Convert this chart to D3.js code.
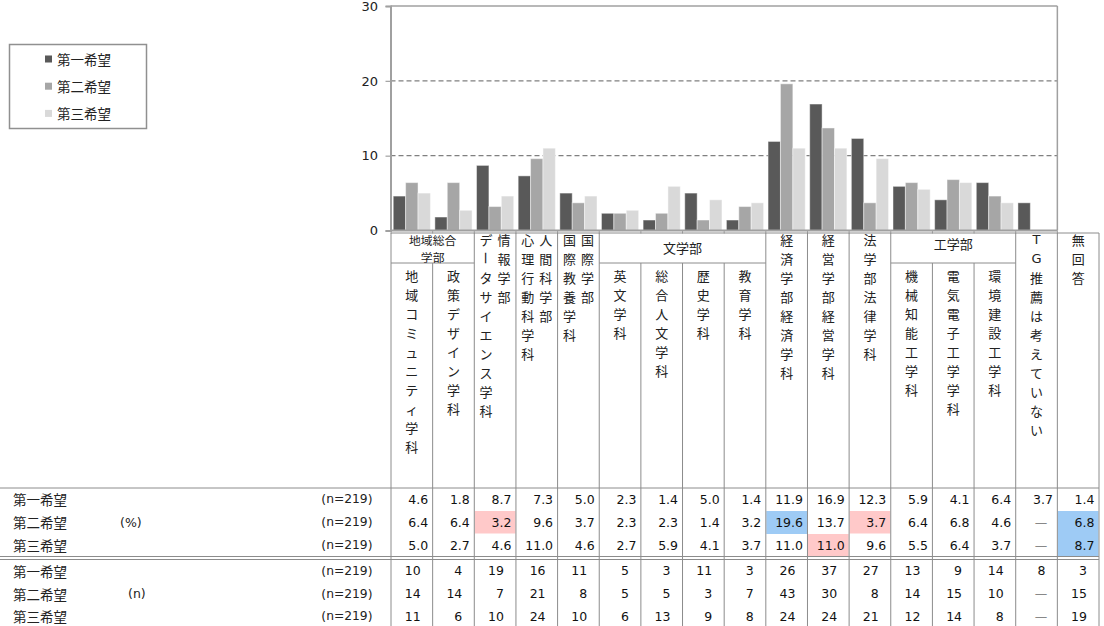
<!DOCTYPE html>
<html><head><meta charset="utf-8">
<script src="https://cdn.jsdelivr.net/npm/d3@7"></script>
<style>
html,body{margin:0;padding:0;background:#fff;}
svg{display:block;}
</style></head>
<body>
<svg id="chart" width="1104" height="626"></svg>
<script>
// ---------- DATA ----------
const series = ["第一希望", "第二希望", "第三希望"];
const categories = ["地域コミュニティ学科","政策デザイン学科","データサイエンス学科","心理行動科学科","国際教養学科",
  "英文学科","総合人文学科","歴史学科","教育学科","経済学部経済学科","経営学部経営学科","法学部法律学科",
  "機械知能工学科","電気電子工学学科","環境建設工学科","TG推薦は考えていない","無回答"];
// header labels: vertical text columns (right column listed first, as read in Japanese)
const headerCols = [["地域コミュニティ学科"],["政策デザイン学科"],["情報学部","データサイエンス学科"],["人間科学部","心理行動科学科"],
  ["国際学部","国際教養学科"],["英文学科"],["総合人文学科"],["歴史学科"],["教育学科"],["経済学部経済学科"],["経営学部経営学科"],
  ["法学部法律学科"],["機械知能工学科"],["電気電子工学学科"],["環境建設工学科"],["TG推薦は考えていない"],["無回答"]];
const groups = [
  {name: ["地域総合","学部"], from: 0, to: 1},
  {name: ["文学部"], from: 5, to: 8},
  {name: ["工学部"], from: 12, to: 14}
];
const pct1 = [4.6,1.8,8.7,7.3,5.0,2.3,1.4,5.0,1.4,11.9,16.9,12.3,5.9,4.1,6.4,3.7,1.4];
const pct2 = [6.4,6.4,3.2,9.6,3.7,2.3,2.3,1.4,3.2,19.6,13.7,3.7,6.4,6.8,4.6,null,6.8];
const pct3 = [5.0,2.7,4.6,11.0,4.6,2.7,5.9,4.1,3.7,11.0,11.0,9.6,5.5,6.4,3.7,null,8.7];
const n1 = [10,4,19,16,11,5,3,11,3,26,37,27,13,9,14,8,3];
const n2 = [14,14,7,21,8,5,5,3,7,43,30,8,14,15,10,null,15];
const n3 = [11,6,10,24,10,6,13,9,8,24,24,21,12,14,8,null,19];
const chartCount = 16; // 無回答 not plotted
const yTicks = [0,10,20,30];
const rowLabels = ["第一希望","第二希望","第三希望","第一希望","第二希望","第三希望"];
const unitLabels = ["(%)","(n)"];
const baseLabel = "(n=219)";
// highlighted cells: [row index (0-2 pct rows), column index]
const pinkCells = [[1,2],[1,11],[2,10]];
const blueCells = [[1,9],[1,16],[2,16]];

// ---------- LAYOUT ----------
const svg = d3.select("#chart");
const colors = ["#595959","#a6a6a6","#d9d9d9"];
const lineCol = "#8c8c8c";
const jp = "'Noto Sans CJK JP','Noto Sans',sans-serif";
const num = "'DejaVu Sans',Verdana,sans-serif";

const tableLeft = 391, tableRight = 1099;
const x = d3.scaleBand().domain(categories).range([tableLeft, tableRight]).padding(0);
const step = x.step();
const plotLeft = tableLeft - 0.5, plotRight = x(categories[chartCount-1]) + step, plotTop = 6, plotBottom = 230.5;
const y = d3.scaleLinear().domain([0,30]).range([plotBottom, plotTop]);
const xs = d3.scaleBand().domain(series).range([0, step]).paddingInner(0).paddingOuter(0.18);

// gridlines
svg.append("g").selectAll("line").data([10,20]).join("line")
  .attr("x1", plotLeft).attr("x2", plotRight)
  .attr("y1", d => y(d)).attr("y2", d => y(d))
  .attr("stroke", "#808080").attr("stroke-width", 1.2).attr("stroke-dasharray", "5,3");

// bars
const pctSeries = [pct1, pct2, pct3];
const chartCats = categories.slice(0, chartCount);
const barG = svg.append("g");
series.forEach((s, si) => {
  barG.append("g").selectAll("rect")
    .data(chartCats.map((c, i) => ({c, v: pctSeries[si][i]})).filter(d => d.v != null))
    .join("rect")
    .attr("x", d => x(d.c) + xs(s))
    .attr("width", xs.bandwidth())
    .attr("y", d => y(d.v))
    .attr("height", d => y(0) - y(d.v))
    .attr("fill", colors[si])
    .attr("stroke", "#ffffff").attr("stroke-opacity", 0.45).attr("stroke-width", 1);
});

// plot frame
svg.append("line").attr("x1", plotLeft).attr("x2", plotRight).attr("y1", plotTop).attr("y2", plotTop)
  .attr("stroke", "#a0a0a0").attr("stroke-width", 1.5);
svg.append("line").attr("x1", plotRight).attr("x2", plotRight).attr("y1", plotTop).attr("y2", plotBottom)
  .attr("stroke", "#a0a0a0").attr("stroke-width", 1.5);
svg.append("line").attr("x1", plotLeft).attr("x2", plotRight).attr("y1", plotBottom).attr("y2", plotBottom)
  .attr("stroke", "#a0a0a0").attr("stroke-width", 2);
// category boundary ticks
svg.append("g").selectAll("line").data(d3.range(chartCount + 1)).join("line")
  .attr("x1", i => tableLeft + i * step).attr("x2", i => tableLeft + i * step)
  .attr("y1", plotBottom).attr("y2", plotBottom + 3)
  .attr("stroke", "#a0a0a0").attr("stroke-width", 1);

// y axis
const yAxis = svg.append("g").attr("transform", `translate(${plotLeft},0)`)
  .call(d3.axisLeft(y).tickValues(yTicks).tickSize(5).tickPadding(7.5).tickFormat(d3.format("d")));
yAxis.select(".domain").attr("stroke", "#a0a0a0").attr("stroke-width", 2);
yAxis.selectAll(".tick line").attr("stroke", "#a0a0a0").attr("stroke-width", 1.2);
yAxis.selectAll(".tick text").attr("font-family", num).attr("font-size", 13).attr("fill", "#222");

// legend
const lg = svg.append("g");
lg.append("rect").attr("x", 9.5).attr("y", 44.5).attr("width", 137).attr("height", 84)
  .attr("fill", "#fff").attr("stroke", "#909090").attr("stroke-width", 1.5);
series.forEach((s, i) => {
  const cy = 59 + i * 27.2;
  lg.append("rect").attr("x", 45).attr("y", cy - 3.5).attr("width", 7).attr("height", 7).attr("fill", colors[i]);
  lg.append("text").attr("x", 57).attr("y", cy).attr("dominant-baseline", "central")
    .attr("font-family", jp).attr("font-size", 13.5).attr("fill", "#222").text(s);
});

// ---------- TABLE ----------
const tableTop = 233, groupLine = 263, headBottom = 488, dbl1 = 556.5, dbl2 = 559.5, bottom = 626;
const colL = i => tableLeft + i * step;
const colC = i => colL(i) + step / 2;
const rowTops = [488, 511, 534, 559.5, 582.5, 605];
const rowH = 22.5;

// highlights
const hl = svg.append("g");
pinkCells.forEach(([r, c]) => hl.append("rect").attr("x", colL(c) + 0.5).attr("y", rowTops[r]).attr("width", step - 1).attr("height", rowH).attr("fill", "#ffc9c9"));
blueCells.forEach(([r, c]) => hl.append("rect").attr("x", colL(c) + 0.5).attr("y", rowTops[r]).attr("width", step - 1).attr("height", r === 2 ? dbl1 - 0.5 - rowTops[r] : rowH + 0.5).attr("fill", "#9ecbf5"));

const tl = svg.append("g").attr("stroke", lineCol).attr("stroke-width", 1);
tl.append("line").attr("x1", tableLeft).attr("x2", tableRight).attr("y1", tableTop).attr("y2", tableTop);
groups.forEach(g => tl.append("line").attr("x1", colL(g.from)).attr("x2", colL(g.to + 1)).attr("y1", groupLine).attr("y2", groupLine));
const inner = new Set();
groups.forEach(g => { for (let b = g.from + 1; b <= g.to; b++) inner.add(b); });
d3.range(categories.length + 1).forEach(b => {
  tl.append("line").attr("x1", colL(b)).attr("x2", colL(b))
    .attr("y1", inner.has(b) ? groupLine : tableTop).attr("y2", bottom);
});
tl.append("line").attr("x1", 0).attr("x2", tableRight).attr("y1", headBottom).attr("y2", headBottom);
tl.append("line").attr("x1", 0).attr("x2", tableRight).attr("y1", dbl1).attr("y2", dbl1).attr("stroke-width", 1.2);
tl.append("line").attr("x1", 0).attr("x2", tableRight).attr("y1", dbl2).attr("y2", dbl2).attr("stroke-width", 1.2);

// group header text
const gh = svg.append("g").attr("font-family", jp).attr("fill", "#222").attr("text-anchor", "middle");
groups.forEach(g => {
  const cx = (colL(g.from) + colL(g.to + 1)) / 2;
  const two = g.name.length === 2;
  const ys = two ? [239.5, 256] : [g.from === 5 ? 247 : 243];
  g.name.forEach((t, k) => gh.append("text").attr("x", cx).attr("y", ys[k]).attr("dominant-baseline", "central")
    .attr("font-size", two ? 11.8 : 13).text(t));
});

// vertical header text
const vh = svg.append("g").attr("font-family", jp).attr("font-size", 13).attr("fill", "#222").attr("text-anchor", "middle");
const pitch = 19;
headerCols.forEach((cols, i) => {
  const grouped = inner.has(i) || inner.has(i + 1);
  const y0 = grouped ? 275 : 239;
  cols.forEach((label, k) => {
    const cx = cols.length === 2 ? (k === 0 ? colC(i) + 9 : colC(i) - 9) : colC(i);
    Array.from(label).forEach((ch, j) => {
      const cy = y0 + j * pitch;
      const t = vh.append("text").attr("x", cx).attr("y", cy).attr("dominant-baseline", "central").text(ch);
      if (ch === "ー") t.attr("transform", `rotate(90,${cx},${cy})`);
      if (/[A-Z]/.test(ch)) t.attr("font-family", num).attr("font-size", 13);
    });
  });
});

// row labels
const rl = svg.append("g").attr("fill", "#222");
const rowC = r => rowTops[r] + rowH / 2;
rowLabels.forEach((t, r) => {
  rl.append("text").attr("x", 13).attr("y", rowC(r)).attr("dominant-baseline", "central")
    .attr("font-family", jp).attr("font-size", 13.5).text(t);
  rl.append("text").attr("x", 372.5).attr("y", rowC(r)).attr("dominant-baseline", "central").attr("text-anchor", "end")
    .attr("font-family", num).attr("font-size", 12.3).text(baseLabel);
});
rl.append("text").attr("x", 120).attr("y", rowC(1)).attr("dominant-baseline", "central")
  .attr("font-family", num).attr("font-size", 12.5).text(unitLabels[0]);
rl.append("text").attr("x", 128).attr("y", rowC(4)).attr("dominant-baseline", "central")
  .attr("font-family", num).attr("font-size", 12.5).text(unitLabels[1]);

// values
const rows = [pct1, pct2, pct3, n1, n2, n3];
const fmtP = d3.format(".1f");
const vg = svg.append("g").attr("font-family", num).attr("font-size", 12.5).attr("text-anchor", "end");
rows.forEach((vals, r) => {
  vals.forEach((v, c) => {
    const right = colL(c + 1);
    const t = vg.append("text").attr("y", rowC(r)).attr("dominant-baseline", "central");
    if (v == null) {
      t.attr("x", right - 10).attr("fill", "#888").text("—");
    } else if (r < 3) {
      t.attr("x", right - 4.5).attr("fill", "#111").text(fmtP(v));
    } else {
      t.attr("x", right - 12).attr("fill", "#111").text(v);
    }
  });
});
</script>
</body></html>
